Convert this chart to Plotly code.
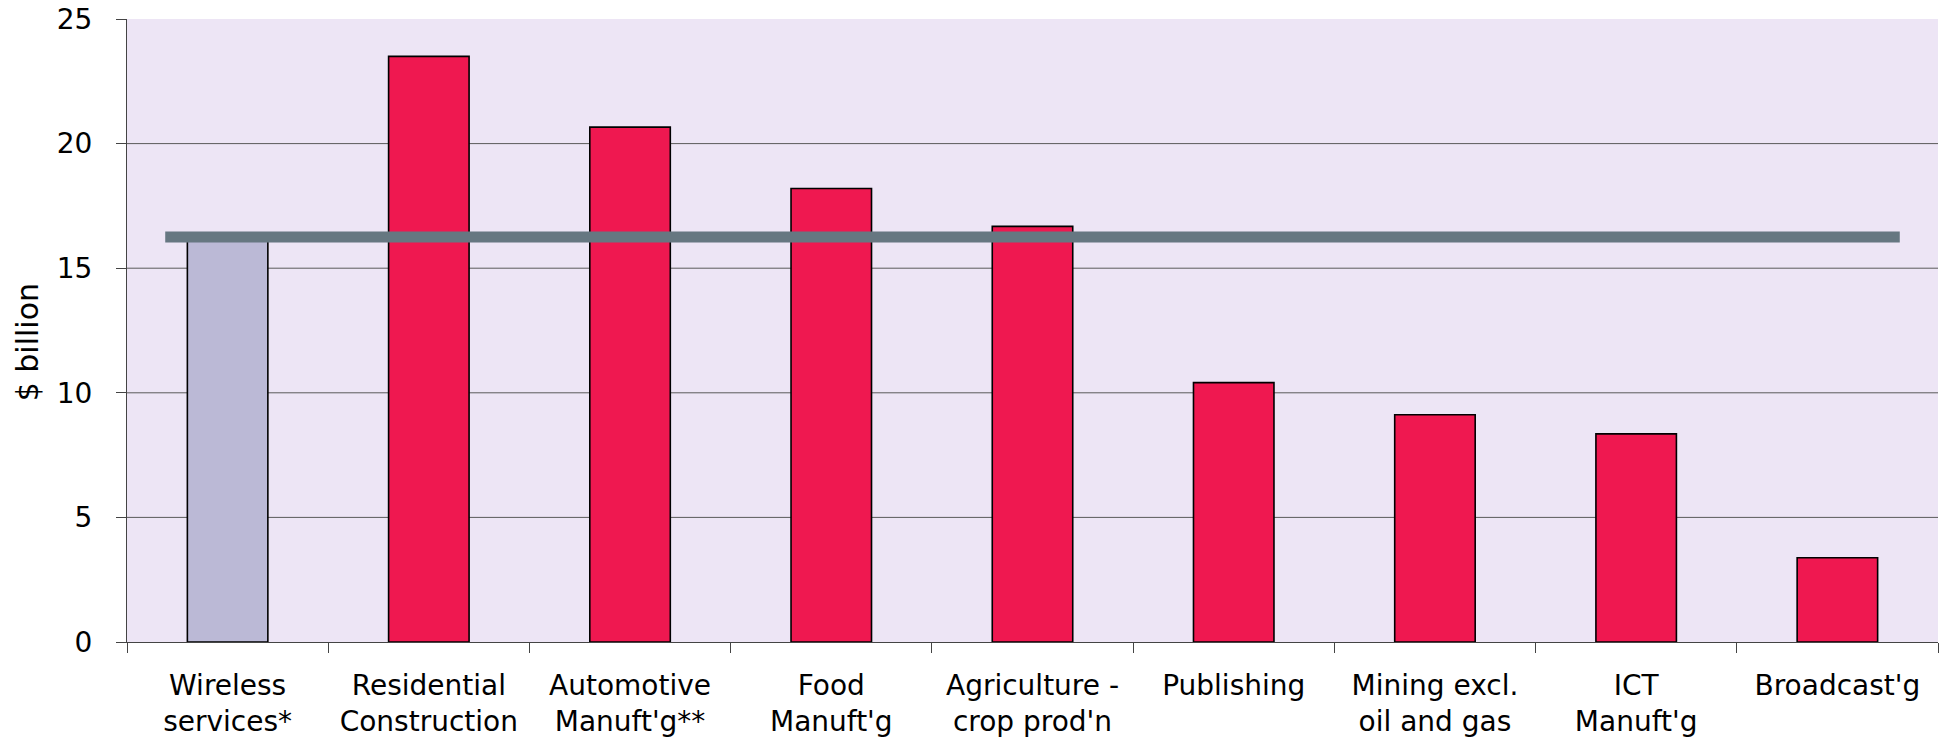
import plotly.graph_objects as go

categories = [
    "Wireless<br>services*",
    "Residential<br>Construction",
    "Automotive<br>Manuft'g**",
    "Food<br>Manuft'g",
    "Agriculture -<br>crop prod'n",
    "Publishing",
    "Mining excl.<br>oil and gas",
    "ICT<br>Manuft'g",
    "Broadcast'g",
]
values = [16.1, 23.5, 20.66, 18.2, 16.68, 10.41, 9.12, 8.35, 3.38]
average_value = 16.25
y_ticks = [0, 5, 10, 15, 20, 25]
grid_values = [5, 10, 15, 20]

RED = "#EF1850"
LAV = "#BBB9D6"
bar_colors = [LAV] + [RED] * (len(categories) - 1)

FONT = "DejaVu Sans"

fig = go.Figure()
fig.add_trace(go.Bar(
    x=categories, y=values,
    marker=dict(color=bar_colors, line=dict(color="#000000", width=1.6)),
    width=0.4,
    hoverinfo="skip",
))

shapes = []
for g in grid_values:
    shapes.append(dict(type="line", xref="paper", x0=0, x1=1, yref="y", y0=g, y1=g,
                       line=dict(color="#5a5a5a", width=1), layer="below"))
shapes.append(dict(type="line", xref="x", x0=-0.31, x1=8.31, yref="y",
                   y0=average_value, y1=average_value,
                   line=dict(color="#667781", width=11), layer="above"))

fig.update_layout(
    width=1948, height=739,
    margin=dict(l=127, r=10, t=19, b=97),
    paper_bgcolor="white",
    plot_bgcolor="#EDE5F5",
    showlegend=False,
    shapes=shapes,
    font=dict(family=FONT, size=27, color="#000000"),
    xaxis=dict(
        type="category",
        tickson="boundaries",
        ticks="outside", ticklen=10, tickcolor="#444444", tickwidth=1,
        showline=True, linecolor="#444444", linewidth=1,
        showgrid=False,
        tickfont=dict(family=FONT, size=28),
        ticklabelstandoff=18,
        range=[-0.5, 8.5],
        automargin=False,
    ),
    yaxis=dict(
        range=[0, 25], tickvals=y_ticks,
        ticks="outside", ticklen=10, tickcolor="#444444", tickwidth=1,
        showline=True, linecolor="#444444", linewidth=1,
        showgrid=False, zeroline=False,
        tickfont=dict(family=FONT, size=28),
        ticklabelstandoff=18,
        automargin=False,
    ),
    annotations=[dict(
        text="$ billion", textangle=-90, xref="paper", yref="paper",
        x=-0.0552, y=0.481, xanchor="center", yanchor="middle",
        showarrow=False, font=dict(family=FONT, size=30),
    )],
)

fig.write_html("out.html")
